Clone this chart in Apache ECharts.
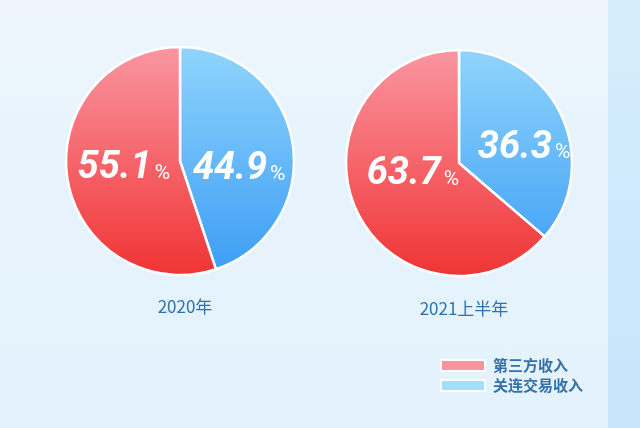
<!DOCTYPE html>
<html><head><meta charset="utf-8">
<script src="https://cdn.jsdelivr.net/npm/echarts@6/dist/echarts.min.js"></script>
<style>
html,body{margin:0;padding:0;width:640px;height:428px;overflow:hidden;}
body{background:linear-gradient(180deg,#eef6fc 0%,#e6f3fc 40%,#e3f2fc 100%);}
#strip{position:absolute;left:608px;top:0;width:32px;height:428px;background:linear-gradient(180deg,#d6edfc,#c6e5fb);}
#c{position:absolute;left:0;top:0;width:640px;height:428px;}
</style></head>
<body><div id="strip"></div><div id="c"></div>
<script>
var categories = ['关连交易收入', '第三方收入'];
var periods = ['2020年', '2021上半年'];
var values2020 = [44.9, 55.1];
var values2021 = [36.3, 63.7];

var chart = echarts.init(document.getElementById('c'), null, {renderer:'canvas'});

function grad(top, bottom, c1, c2){
  return new echarts.graphic.LinearGradient(0, top, 0, bottom, [{offset:0,color:c1},{offset:1,color:c2}], true);
}
// label nudges [series][dataIndex]
var nudges = [[[0,18],[3,-2]], [[11,10],[8,-13]]];
function makeSeries(vals, cx, cy, r, si){
  var top = cy - r, bottom = cy + r;
  var colors = [grad(top,bottom,'#8fd4fc','#3c9df5'), grad(top,bottom,'#fa96a1','#f03434')];
  return {
    type:'pie', center:[cx,cy], radius:[0,r], startAngle:90, clockwise:true,
    avoidLabelOverlap:false, silent:true,
    itemStyle:{borderColor:'#ffffff', borderWidth:2.5},
    label:{show:true, position:'inside',
      formatter:function(p){return '{n|'+p.value.toFixed(1)+'}{p|%}';},
      rich:{
        n:{fontFamily:'Roboto', fontWeight:'bold', fontStyle:'italic', fontSize:38, color:'#ffffff'},
        p:{fontFamily:'Roboto', fontSize:21, color:'#ffffff', padding:[10,0,0,3]}
      }},
    labelLayout:function(p){ var d = nudges[si][p.dataIndex]; return {dx:d[0], dy:d[1]}; },
    labelLine:{show:false},
    data: vals.map(function(v,i){return {name:categories[i], value:v, itemStyle:{color:colors[i]}};})
  };
}

chart.setOption({
  animation:false,
  backgroundColor:'transparent',
  title:[
    {text:periods[0], left:180, top:293, textAlign:'center', textStyle:{fontFamily:'Noto Sans CJK SC', fontWeight:'normal', fontSize:17, color:'#2f72af'}},
    {text:periods[1], left:459, top:295, textAlign:'center', textStyle:{fontFamily:'Noto Sans CJK SC', fontWeight:'normal', fontSize:17, color:'#2f72af'}}
  ],
  legend:{
    left:435, top:353, orient:'vertical', itemWidth:44, itemHeight:11, itemGap:5, icon:'rect',
    selectedMode:false,
    textStyle:{fontFamily:'Noto Sans CJK SC', fontWeight:'bold', fontSize:15, lineHeight:15, color:'#3471ab', padding:[0,0,0,3]},
    data:[
      {name:categories[1], itemStyle:{color:'#f9939e'}},
      {name:categories[0], itemStyle:{color:'#a6ddfd'}}
    ]
  },
  series:[ makeSeries(values2020, 180, 161, 114, 0), makeSeries(values2021, 459, 163, 113, 1) ]
});
</script></body></html>
